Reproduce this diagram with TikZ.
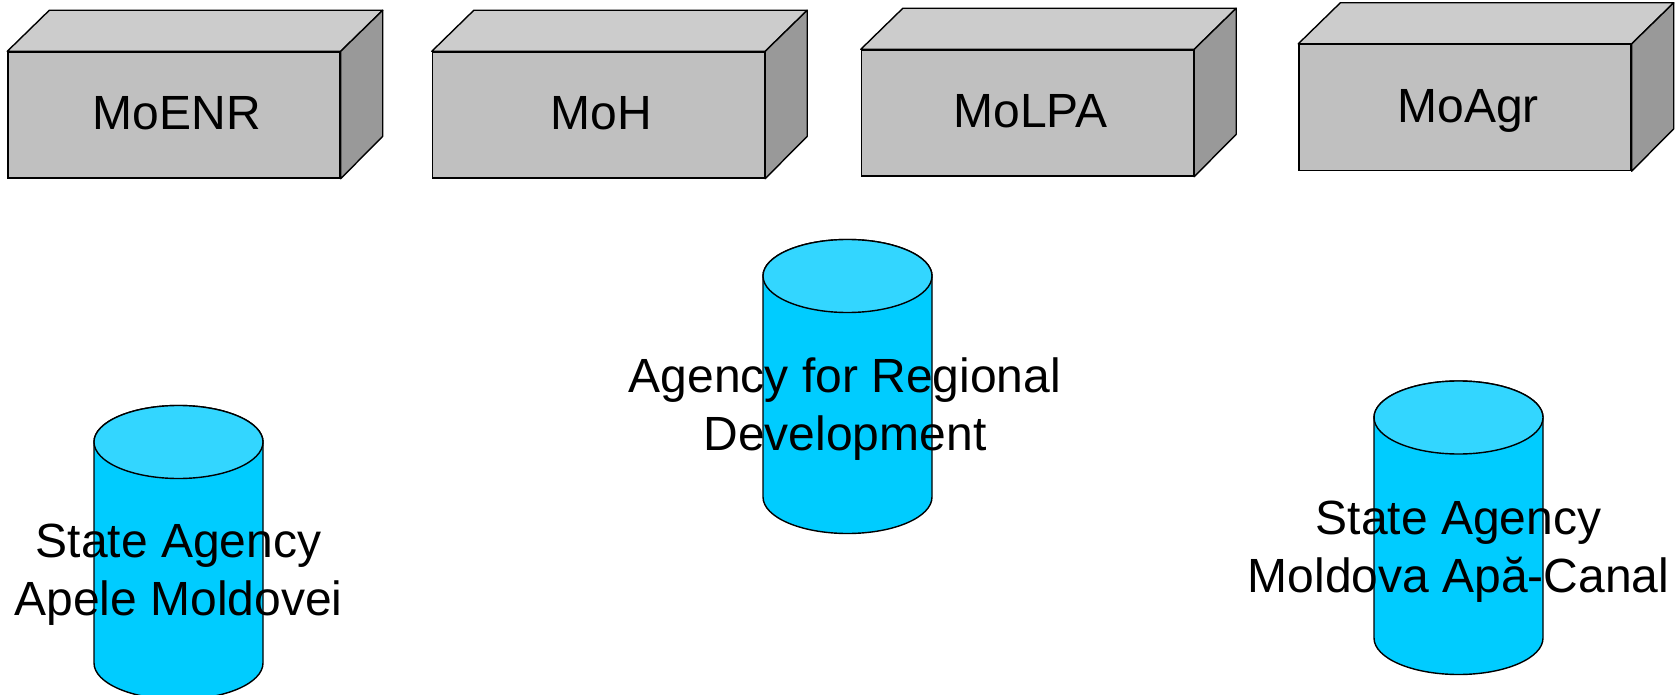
\documentclass[tikz,border=0pt]{standalone}
\usepackage{fontspec}
\setmainfont{Liberation Sans}
\definecolor{frontgray}{HTML}{C0C0C0}
\definecolor{topgray}{HTML}{CCCCCC}
\definecolor{sidegray}{HTML}{999999}
\definecolor{cylbody}{HTML}{00CCFF}
\definecolor{cyltop}{HTML}{33D6FF}
\tikzset{
  box/.style={draw=black, line width=1.4pt, fill=frontgray, rectangle, inner sep=0pt,
    minimum width=332pt, minimum height=126pt},
  boxlabel/.style={inner sep=0pt, text height=34pt, text depth=4pt, xshift=3pt,
    font=\fontsize{48}{58}\selectfont},
  boxtop/.style={draw=black, line width=1.4pt, fill=topgray, line join=round},
  boxside/.style={draw=black, line width=1.4pt, fill=sidegray, line join=round},
  cylbodystyle/.style={draw=black, line width=1.4pt, fill=cylbody},
  cyltopstyle/.style={draw=black, line width=1.4pt, fill=cyltop},
  cyltext/.style={align=center, inner sep=0pt, anchor=base, font=\fontsize{48}{58}\selectfont}
}
\newcommand{\mybox}[3]{%
  \node[box] (#1) at (#2) {};
  \draw[boxtop] (#1.north west) -- ++(42,41) -- ($(#1.north east)+(42,41)$) -- (#1.north east) -- cycle;
  \draw[boxside] (#1.north east) -- ++(42,41) -- ++(0,-126) -- (#1.south east) -- cycle;
  \node[boxlabel] (#1text) at (#1.center) {#3};
}
\newcommand{\mycyl}[3]{% cx, top-centre y, body bottom y
  \draw[cylbodystyle] (#1-84.5,#2) -- (#1-84.5,#3) arc (180:360:84.5 and 36.5) -- (#1+84.5,#2) arc (0:180:84.5 and 36.5) -- cycle;
  \draw[cyltopstyle] (#1,#2) ellipse (84.5 and 36.5);
}
\usetikzlibrary{calc}
\begin{document}
\begin{tikzpicture}[x=1pt,y=1pt]
\useasboundingbox (0,0) rectangle (1678,-695);
\mybox{moenr}{174,-115}{MoENR}
\mybox{moh}{598.5,-115}{MoH}
\mybox{molpa}{1027.5,-113}{MoLPA}
\mybox{moagr}{1465,-107.5}{MoAgr}
\mycyl{178.5}{-442}{-663}
\mycyl{847.5}{-276}{-497}
\mycyl{1458.5}{-417.5}{-638}
\node[cyltext] (apele) at (178.5,-615) {State Agency\\Apele Moldovei};
\node[cyltext] (ard) at (845,-450) {Agency for Regional\\Development};
\node[cyltext] (apacanal) at (1458.5,-592) {State Agency\\Moldova Apă-Canal};
\end{tikzpicture}
\end{document}
